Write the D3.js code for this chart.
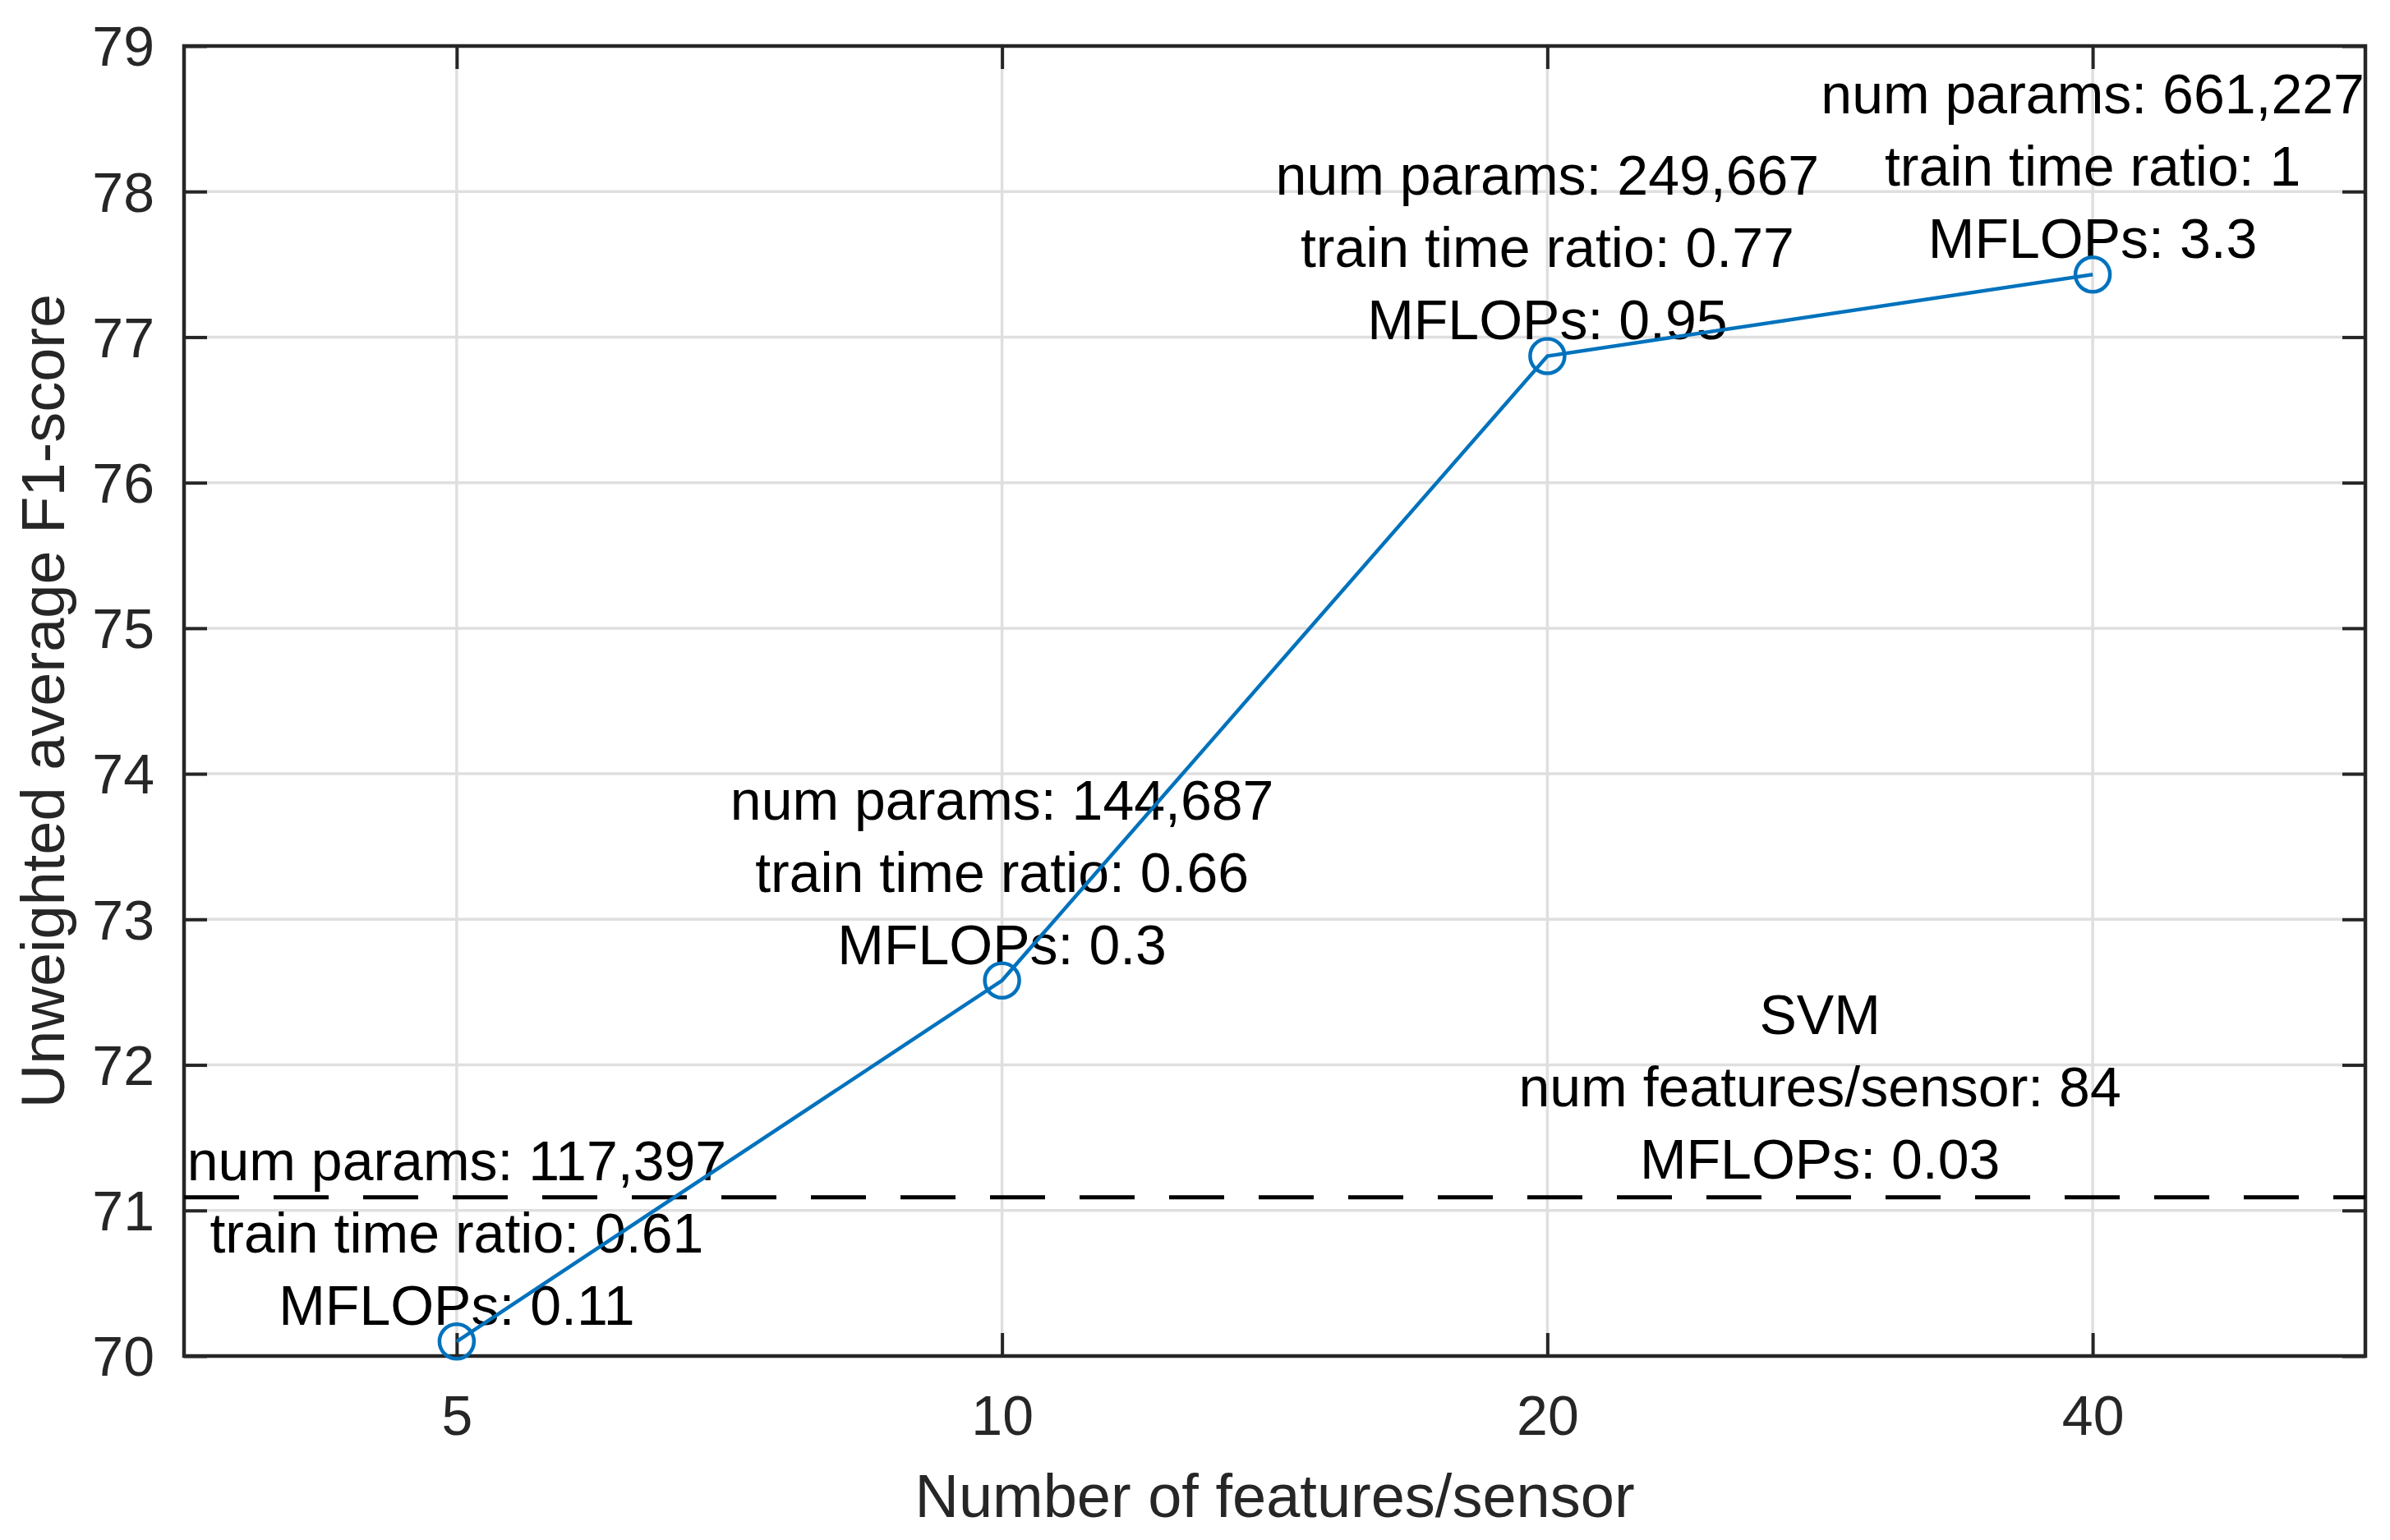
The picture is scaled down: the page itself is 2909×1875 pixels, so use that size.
<!DOCTYPE html>
<meta charset="utf-8">
<head>
    <title>F1-score vs number of features per sensor</title>
    <script src="https://cdn.jsdelivr.net/npm/d3@7"></script>
    <style>
        body { margin: 0; background: #fff; }
        text { font-family: "Liberation Sans", Arial, Helvetica, sans-serif; }
    </style>
</head>
<body>
<div id="chart"></div>
<script>
    // data
    var features = [5, 10, 20, 40];
    var f1Scores = [70.10, 72.58, 76.87, 77.43];
    var numParams = ["117,397", "144,687", "249,667", "661,227"];
    var trainRatio = ["0.61", "0.66", "0.77", "1"];
    var mflops = ["0.11", "0.3", "0.95", "3.3"];
    var yTicks = [70, 71, 72, 73, 74, 75, 76, 77, 78, 79];
    var svmF1 = 71.09;
    var svmAt = 28.28;
    var svmLines = ["SVM", "num features/sensor: 84", "MFLOPs: 0.03"];

    var width = 2909, height = 1875;
    var margin = {top: 56, right: 30, bottom: 224, left: 224};
    var innerW = width - margin.left - margin.right;
    var innerH = height - margin.top - margin.bottom;

    var svg = d3.select("#chart").append("svg")
        .attr("width", width)
        .attr("height", height);
    var g = svg.append("g")
        .attr("transform", "translate(" + margin.left + "," + margin.top + ")");

    // log2 x axis, half a step of padding on each side
    var x = d3.scaleLog().base(2)
        .domain([5 / Math.SQRT2, 40 * Math.SQRT2])
        .range([0, innerW]);
    var y = d3.scaleLinear().domain([70, 79]).range([innerH, 0]);

    var axisColor = "#262626";
    var gridColor = "#dfdfdf";
    var tickLen = 28;

    // grid
    g.selectAll(".gx").data(features).enter().append("line")
        .attr("x1", d => x(d)).attr("x2", d => x(d))
        .attr("y1", 0).attr("y2", innerH)
        .attr("stroke", gridColor).attr("stroke-width", 3.5);
    g.selectAll(".gy").data(yTicks).enter().append("line")
        .attr("x1", 0).attr("x2", innerW)
        .attr("y1", d => y(d)).attr("y2", d => y(d))
        .attr("stroke", gridColor).attr("stroke-width", 3.5);

    // axes with inward ticks
    var xAxis = g.append("g")
        .attr("transform", "translate(0," + innerH + ")")
        .call(d3.axisBottom(x).tickValues(features).tickFormat(d3.format("d"))
            .tickSizeInner(-tickLen).tickSizeOuter(0));
    var xTop = g.append("g")
        .call(d3.axisTop(x).tickValues(features).tickFormat("")
            .tickSizeInner(-tickLen).tickSizeOuter(0));
    var yAxis = g.append("g")
        .call(d3.axisLeft(y).tickValues(yTicks).tickFormat(d3.format("d"))
            .tickSizeInner(-tickLen).tickSizeOuter(0));
    var yRight = g.append("g")
        .attr("transform", "translate(" + innerW + ",0)")
        .call(d3.axisRight(y).tickValues(yTicks).tickFormat("")
            .tickSizeInner(-tickLen).tickSizeOuter(0));

    [xAxis, xTop, yAxis, yRight].forEach(function(a) {
        a.select(".domain").remove();
        a.selectAll(".tick line").attr("stroke", axisColor).attr("stroke-width", 4);
        a.selectAll("text").attr("fill", axisColor).style("font-size", "68px");
    });
    xAxis.selectAll(".tick text").attr("y", 96).attr("dy", null);
    yAxis.selectAll(".tick text").attr("x", -36).attr("dy", "0.35em");

    // box
    g.append("rect")
        .attr("width", innerW).attr("height", innerH)
        .attr("fill", "none").attr("stroke", axisColor).attr("stroke-width", 4.5);

    // axis labels
    svg.append("text")
        .attr("x", margin.left + innerW / 2)
        .attr("y", 1847)
        .attr("text-anchor", "middle")
        .attr("fill", axisColor)
        .style("font-size", "74px")
        .text("Number of features/sensor");
    svg.append("text")
        .attr("transform", "translate(78," + (margin.top + innerH / 2) + ") rotate(-90)")
        .attr("text-anchor", "middle")
        .attr("fill", axisColor)
        .style("font-size", "74px")
        .text("Unweighted average F1-score");

    // SVM baseline
    g.append("line")
        .attr("x1", 0).attr("x2", innerW)
        .attr("y1", y(svmF1)).attr("y2", y(svmF1))
        .attr("stroke", "#000").attr("stroke-width", 5)
        .attr("stroke-dasharray", "67,42");

    var lineGap = 88;
    g.selectAll(".svm").data(svmLines).enter().append("text")
        .attr("x", x(svmAt))
        .attr("y", (d, i) => y(svmF1) - 23 - (svmLines.length - 1 - i) * lineGap)
        .attr("text-anchor", "middle")
        .style("font-size", "68px")
        .text(d => d);

    // annotations above each point
    features.forEach(function(f, i) {
        var rows = ["num params: " + numParams[i],
                    "train time ratio: " + trainRatio[i],
                    "MFLOPs: " + mflops[i]];
        rows.forEach(function(r, j) {
            g.append("text")
                .attr("x", x(f))
                .attr("y", y(f1Scores[i]) - 20 - (2 - j) * lineGap)
                .attr("text-anchor", "middle")
                .style("font-size", "68px")
                .text(r);
        });
    });

    // data line and markers
    var line = d3.line()
        .x((d, i) => x(features[i]))
        .y(d => y(d));
    g.append("path")
        .datum(f1Scores)
        .attr("d", line)
        .attr("fill", "none")
        .attr("stroke", "#0072BD")
        .attr("stroke-width", 4.5);
    g.selectAll(".pt").data(f1Scores).enter().append("circle")
        .attr("cx", (d, i) => x(features[i]))
        .attr("cy", d => y(d))
        .attr("r", 21)
        .attr("fill", "none")
        .attr("stroke", "#0072BD")
        .attr("stroke-width", 4.5);
</script>
</body>
</html>
